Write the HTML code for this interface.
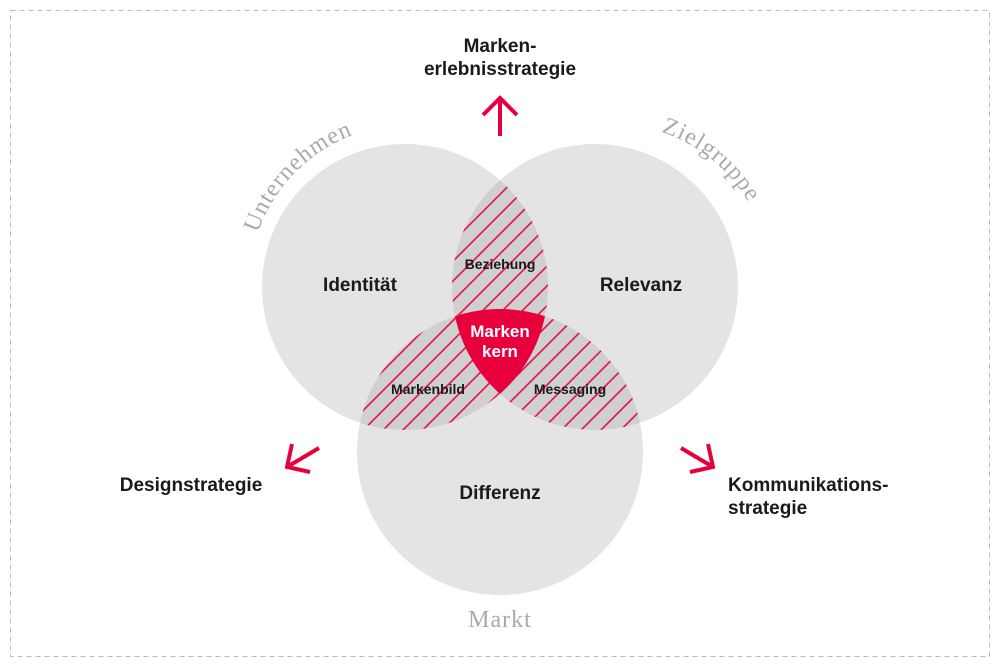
<!DOCTYPE html>
<html><head><meta charset="utf-8"><style>html,body{margin:0;padding:0;background:#fff}svg{display:block}</style></head><body>
<svg width="1000" height="667" viewBox="0 0 1000 667" xmlns="http://www.w3.org/2000/svg" font-family="Liberation Sans, sans-serif">
<defs>
<clipPath id="cA"><circle cx="405" cy="287" r="143"/></clipPath>
<clipPath id="cB"><circle cx="595" cy="287" r="143"/></clipPath>
<clipPath id="cC"><circle cx="500" cy="452" r="143"/></clipPath>
<pattern id="h" patternUnits="userSpaceOnUse" width="14" height="14" patternTransform="rotate(45)">
<rect width="14" height="14" fill="#d0d0d0"/><line x1="1" y1="0" x2="1" y2="14" stroke="#e8003d" stroke-width="1.5"/></pattern>
<path id="arcL" d="M 250 300 A 160 160 0 0 1 420 125"/>
<path id="arcR" d="M 590 125 A 160 160 0 0 1 770 300"/>
</defs>
<rect x="10.5" y="10.5" width="979" height="646" fill="none" stroke="#bbb" stroke-dasharray="5,4"/>
<g fill="#e4e4e4">
<circle cx="405" cy="287" r="143"/><circle cx="595" cy="287" r="143"/><circle cx="500" cy="452" r="143"/>
</g>
<g clip-path="url(#cA)"><rect x="0" y="0" width="1000" height="667" fill="url(#h)" clip-path="url(#cB)"/></g>
<g clip-path="url(#cA)"><rect x="0" y="0" width="1000" height="667" fill="url(#h)" clip-path="url(#cC)"/></g>
<g clip-path="url(#cB)"><rect x="0" y="0" width="1000" height="667" fill="url(#h)" clip-path="url(#cC)"/></g>
<g clip-path="url(#cA)"><g clip-path="url(#cB)"><rect x="0" y="0" width="1000" height="667" fill="#e8003d" clip-path="url(#cC)"/></g></g>
<g fill="#aaa" font-family="Liberation Serif, serif" font-size="24" letter-spacing="1">
<text><textPath href="#arcL" startOffset="50%" text-anchor="middle">Unternehmen</textPath></text>
<text><textPath href="#arcR" startOffset="45%" text-anchor="middle">Zielgruppe</textPath></text>
<text x="500" y="627" text-anchor="middle">Markt</text>
</g>
<g fill="#1a1a1a" font-weight="bold" text-anchor="middle">
<text x="500" y="52" font-size="19">Marken-</text>
<text x="500" y="75" font-size="19">erlebnisstrategie</text>
<text x="360" y="291" font-size="19">Identität</text>
<text x="641" y="291" font-size="19">Relevanz</text>
<text x="500" y="499" font-size="19">Differenz</text>
<text x="500" y="269" font-size="14">Beziehung</text>
<text x="428" y="394" font-size="14">Markenbild</text>
<text x="570" y="394" font-size="14">Messaging</text>
<text x="191" y="491" font-size="19">Designstrategie</text>
<text x="728" y="491" font-size="19" text-anchor="start">Kommunikations-</text>
<text x="728" y="514" font-size="19" text-anchor="start">strategie</text>
</g>
<g fill="#fff" font-weight="bold" font-size="17" text-anchor="middle">
<text x="500" y="337">Marken</text><text x="500" y="357">kern</text>
</g>
<g stroke="#e8003d" stroke-width="4" fill="none">
<path d="M500 136 V98 M483 115 L500 98 L517 115"/>
<path d="M319 448 L287 467 M292 444 L287 467 L310 472"/>
<path d="M681 448 L713 467 M708 444 L713 467 L690 472"/>
</g>
</svg>
</body></html>
